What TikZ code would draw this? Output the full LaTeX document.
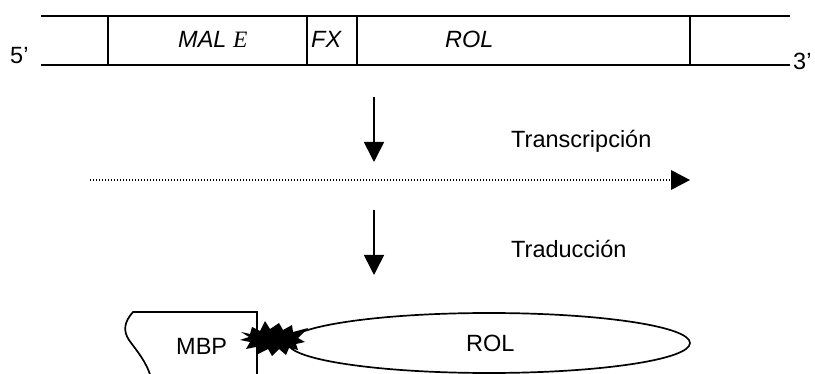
\documentclass[tikz,border=0pt]{standalone}
\usepackage{fontspec}
\setmainfont{Liberation Sans}
\newfontfamily\serifit{Liberation Serif}
\usetikzlibrary{arrows.meta}
\begin{document}
\begin{tikzpicture}[x=1pt,y=-1pt,
  lbl/.style={anchor=base west,inner sep=0pt,font=\fontsize{23.5}{27}\selectfont},
  ilbl/.style={lbl,font=\fontsize{23.5}{27}\selectfont\itshape},
  bar/.style={line width=1.9pt},
  flow/.style={line width=1.6pt,-{Triangle[width=20pt,length=20pt]}},
  shp/.style={line width=1.7pt}]
\useasboundingbox (0,0) rectangle (815,374);
\clip (0,0) rectangle (815,374);
% DNA bar
\coordinate (tl) at (41,16); \coordinate (tr) at (790,16);
\coordinate (bl) at (41,65); \coordinate (br) at (790,65);
\draw[bar] (tl) -- (tr);
\draw[bar] (bl) -- (br);
\foreach \xx in {108,307,357,690} \draw[bar] (\xx,16) -- (\xx,65);
\node[lbl] (p5) at (10,64) {5’};
\node[lbl] (p3) at (793,70) {3’};
\node[ilbl] (male) at (178,48) {MAL {\serifit\itshape E}};
\node[ilbl] (fx) at (311,48) {FX};
\node[ilbl] (rolg) at (445,48) {ROL};
% arrows
\coordinate (a1s) at (374,97); \coordinate (a1e) at (374,162);
\coordinate (a2s) at (374,210); \coordinate (a2e) at (374,275);
\draw[flow] (a1s) -- (a1e);
\draw[flow] (a2s) -- (a2e);
\coordinate (ds) at (90,180); \coordinate (de) at (690,180);
\draw[line width=1.3pt,dash pattern=on 1.2pt off 1.8pt] (ds) -- (671,180);
\fill (671,170) -- (de) -- (671,190) -- cycle;
\node[lbl] (tr1) at (511,148) {Transcripción};
\node[lbl] (tr2) at (511,258) {Traducción};
% MBP fusion
\draw[shp] (151,378) .. controls (147,362) and (136,350) .. (129,340)
  .. controls (123,331) and (124,322) .. (133,312) -- (257,312) -- (257,378);
\draw[shp] (489,343) ellipse [x radius=201, y radius=30];
\node[lbl] (mbp) at (176,355) {MBP};
\node[lbl] (rol) at (466,352) {ROL};
\fill (241,332) -- (250,334) -- (252,327) -- (260,331) -- (265,321) -- (270,329)
  -- (279,323) -- (283,330) -- (292,325) -- (293,332) -- (308,328) -- (298,338)
  -- (305,342) -- (296,344) -- (298,350) -- (289,348) -- (286,355) -- (279,349)
  -- (272,356) -- (268,349) -- (258,354) -- (256,347) -- (246,349) -- (250,342)
  -- (240,340) -- (249,337) -- cycle;
\end{tikzpicture}
\end{document}
